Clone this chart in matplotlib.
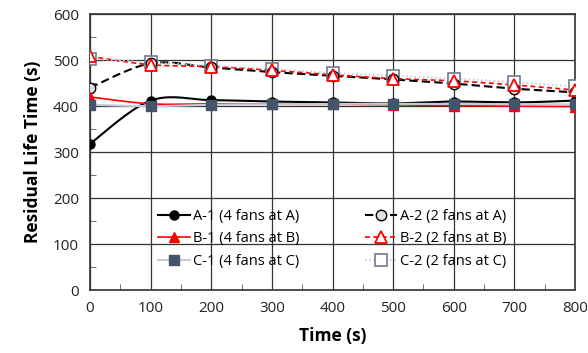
import numpy as np
import matplotlib.pyplot as plt

plt.rcParams['font.family'] = ['Open Sans', 'DejaVu Sans']

time_s = [0, 100, 200, 300, 400, 500, 600, 700, 800]
a1 = [318, 412, 413, 410, 408, 406, 410, 408, 412]
a2 = [440, 493, 484, 474, 466, 458, 449, 438, 430]
b1 = [420, 405, 405, 404, 404, 403, 401, 400, 399]
b2 = [508, 490, 486, 478, 468, 460, 455, 446, 435]
c1 = [403, 400, 403, 404, 405, 405, 405, 404, 404]
c2 = [503, 495, 488, 481, 472, 466, 460, 452, 443]


def smooth(x, y, n=20):
    # Catmull-Rom curve through the points, like Excel's smoothed line
    x = np.asarray(x, float)
    y = np.asarray(y, float)
    px = np.concatenate([[x[0]], x, [x[-1]]])
    py = np.concatenate([[y[0]], y, [y[-1]]])
    xs, ys = [], []
    t = np.linspace(0, 1, n)
    for i in range(1, len(px) - 2):
        for p, out in ((px, xs), (py, ys)):
            p0, p1, p2, p3 = p[i - 1], p[i], p[i + 1], p[i + 2]
            out.extend(0.5 * ((2 * p1) + (-p0 + p2) * t
                              + (2 * p0 - 5 * p1 + 4 * p2 - p3) * t ** 2
                              + (-p0 + 3 * p1 - 3 * p2 + p3) * t ** 3))
    return xs, ys


# data, label, line style, marker style, marker zorder
series = [
    (a1, "A-1 (4 fans at A)", dict(color="black", ls="-", lw=1.5),
     dict(marker="o", mfc="black", mec="black", ms=6.5), 6),
    (a2, "A-2 (2 fans at A)", dict(color="black", ls=(0, (4, 2)), lw=1.5),
     dict(marker="o", mfc="#e0e0e0", mec="black", ms=7.5), 5),
    (b1, "B-1 (4 fans at B)", dict(color="red", ls="-", lw=1.2),
     dict(marker="^", mfc="red", mec="red", ms=6.5), 5),
    (b2, "B-2 (2 fans at B)", dict(color="red", ls=(0, (3, 2)), lw=1.2),
     dict(marker="^", mfc="white", mec="red", ms=8, mew=1.3), 8),
    (c1, "C-1 (4 fans at C)", dict(color="#c5cbd8", ls="-", lw=1.5),
     dict(marker="s", mfc="#44546a", mec="#44546a", ms=6.5), 7),
    (c2, "C-2 (2 fans at C)", dict(color="#c5cbd8", ls=(0, (1, 1.5)), lw=1.2),
     dict(marker="s", mfc="white", mec="#6e7a90", ms=8, mew=1.2), 4),
]

fig = plt.figure(figsize=(5.88, 3.53), dpi=100)
ax = fig.add_axes([0.153, 0.178, 0.825, 0.782])

handles = []
for y, label, line_kw, mk_kw, zo in series:
    sx, sy = smooth(time_s, y)
    ax.plot(sx, sy, zorder=3, **line_kw)
    ax.plot(time_s, y, ls="none", zorder=zo, **mk_kw)
    h, = ax.plot([], [], label=label, **line_kw, **mk_kw)
    handles.append(h)

ax.set_xlim(0, 800)
ax.set_ylim(0, 600)
ax.set_xticks(time_s)
ax.set_yticks(range(0, 601, 100))
ax.set_xticks(range(50, 800, 100), minor=True)
ax.set_yticks(range(50, 600, 100), minor=True)
ax.tick_params(which="major", length=0, labelsize=11, pad=8, colors="#222222")
ax.tick_params(which="minor", direction="in", length=4, color="#555555")
ax.grid(which="major", color="#333333", lw=0.9)
for s in ax.spines.values():
    s.set_color("#333333")
    s.set_linewidth(1.2)

ax.set_xlabel("Time (s)", fontsize=12.5, fontweight="bold", labelpad=8)
ax.set_ylabel("Residual Life Time (s)", fontsize=12.5, fontweight="bold", labelpad=8)

order = [0, 2, 4, 1, 3, 5]
ax.legend([handles[i] for i in order], [handles[i].get_label() for i in order],
          ncol=2, frameon=False, loc="lower center", bbox_to_anchor=(0.5, 0.03),
          fontsize=10.5, handlelength=2.2, handletextpad=0.2, columnspacing=4.5,
          labelspacing=0.5)

fig.savefig("out.png", dpi=100)
